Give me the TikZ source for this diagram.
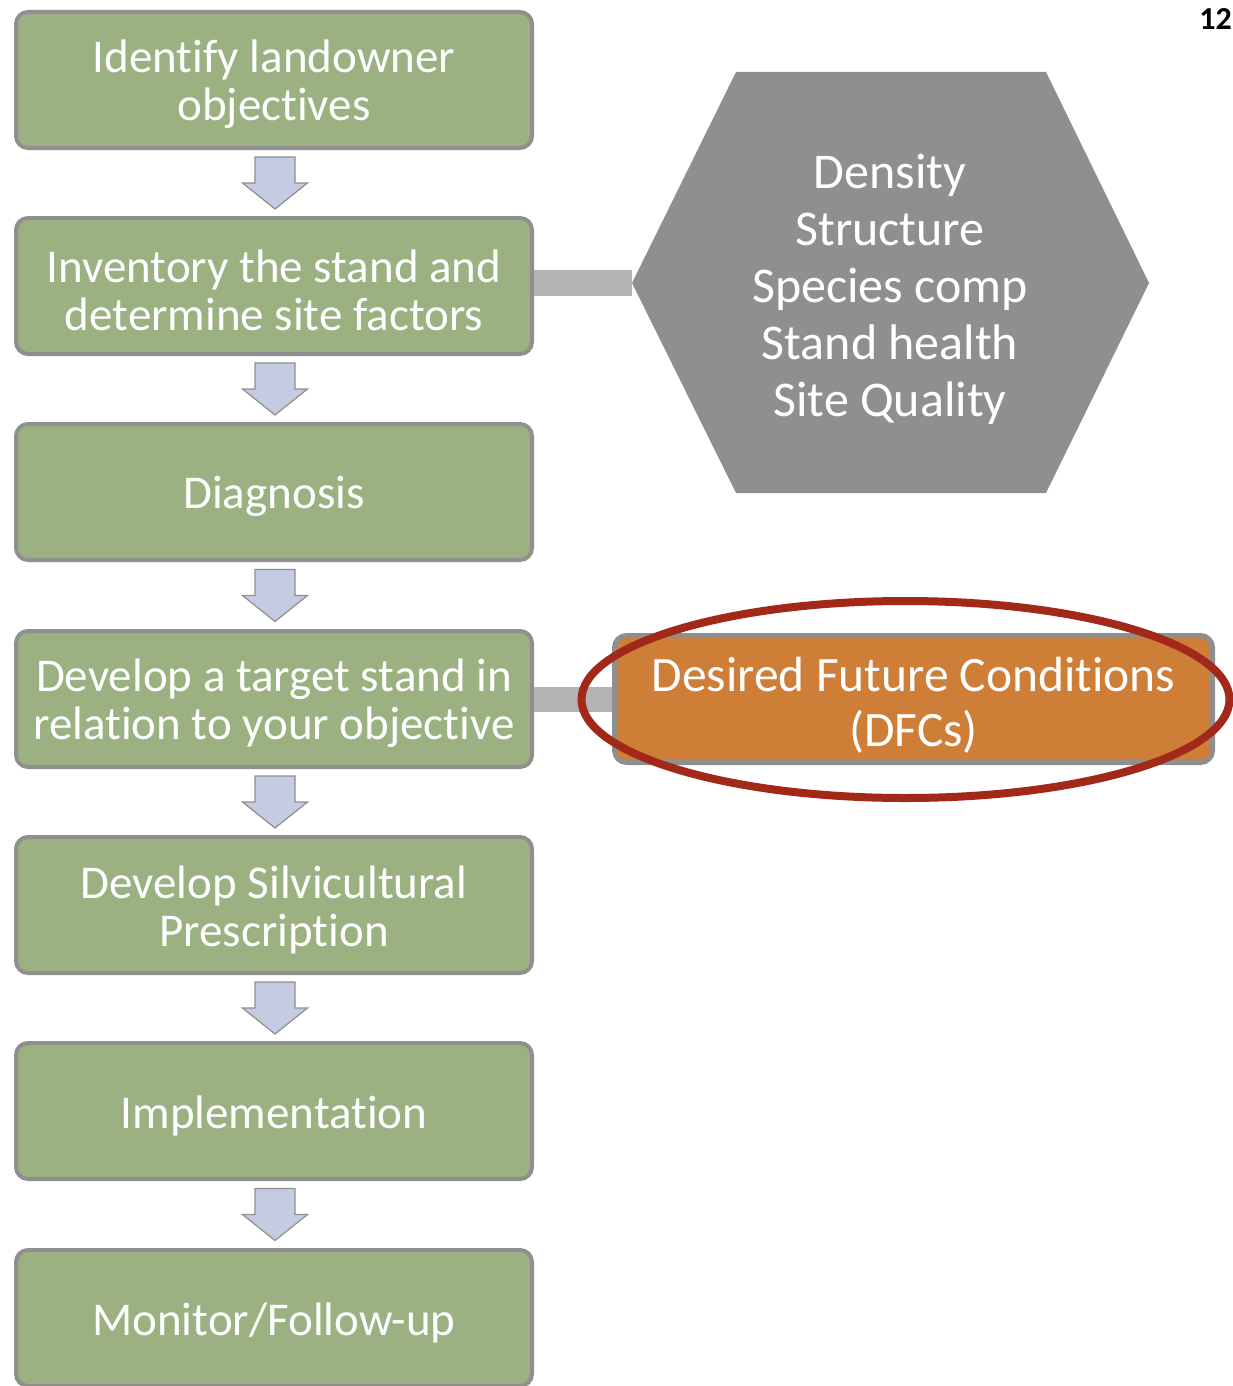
\documentclass[tikz,border=0pt]{standalone}
\usepackage{fontspec}
\setmainfont{Carlito}[Ligatures={NoCommon}]
\usetikzlibrary{calc}

\definecolor{stepgreen}{HTML}{9BB182}
\definecolor{edgegray}{HTML}{8F8F8F}
\definecolor{bargray}{HTML}{B3B3B3}
\definecolor{arrowfill}{HTML}{C5CBE0}
\definecolor{hexgray}{HTML}{8F8F8F}
\definecolor{dfcorange}{HTML}{CF7E37}
\definecolor{ringred}{HTML}{A2291A}

\tikzset{
  steptext/.style={align=center, text=white, font=\fontsize{47}{48}\selectfont,
    inner sep=0pt, yshift=-4.5pt},
  stepbox/.style={draw=edgegray, line width=4pt, fill=stepgreen, rounded corners=12pt,
    minimum width=516pt, minimum height=136pt, inner sep=0pt,
    label={[steptext]center:{#1}}},
  dfctext/.style={align=center, text=white, font=\fontsize{49.5}{55}\selectfont,
    inner sep=0pt, yshift=-6pt},
  dfcbox/.style={draw=edgegray, line width=5pt, fill=dfcorange, rounded corners=12pt,
    minimum width=598pt, minimum height=127pt, inner sep=0pt,
    label={[dfctext]center:{#1}}},
  hextext/.style={align=center, text=white, font=\fontsize{50}{57}\selectfont, inner sep=0pt},
  linkbar/.style={draw=bargray, line width=26pt},
  blockarrow/.pic={
    \draw[fill=arrowfill, draw=edgegray, line width=1.2pt, line join=miter]
      (-20,-26) -- (20,-26) -- (20,0) -- (32.5,0) -- (0,26) -- (-32.5,0) -- (-20,0) -- cycle;
  }
}

\begin{document}
\begin{tikzpicture}[x=1pt, y=-1pt]
  \useasboundingbox (0,0) rectangle (1232,1386);

  % process steps
  \node[stepbox={Identify landowner\\objectives}] (s1) at (274,80) {};
  \node[stepbox={Inventory the stand and\\determine site factors}] (s2) at (274,286) {};
  \node[stepbox={Diagnosis}] (s3) at (274,492) {};
  \node[stepbox={Develop a target stand in\\relation to your objective}] (s4) at (274,699) {};
  \node[stepbox={Develop Silvicultural\\Prescription}] (s5) at (274,905) {};
  \node[stepbox={Implementation}] (s6) at (274,1111) {};
  \node[stepbox={Monitor/Follow-up}] (s7) at (274,1318) {};

  % down arrows between steps
  \foreach \a/\b in {s1/s2, s2/s3, s3/s4, s4/s5, s5/s6, s6/s7} {
    \path ($(\a.south)+(1,0)$) -- ($(\b.north)+(1,0)$) pic[pos=0.5] {blockarrow};
  }

  % stand attributes hexagon
  \coordinate (hexL) at (632,283);
  \draw[linkbar] (s2.east |- hexL) -- (hexL);
  \fill[hexgray] (736,72) -- (1046,72) -- (1149,283) -- (1046,493) -- (736,493) -- (hexL) -- cycle;
  \node[hextext] (hex) at (890,289) {Density\\Structure\\Species comp\\Stand health\\Site Quality};

  % desired future conditions
  \coordinate (dfcC) at (913.5,699);
  \draw[linkbar, line width=25pt] (s4.east) -- (dfcC);
  \node[dfcbox={Desired Future Conditions\\(DFCs)}] (dfc) at (dfcC) {};
  \draw[ringred, line width=8pt] (905.5,699.5) ellipse [x radius=324, y radius=98.5];

  % page number
  \node[anchor=east, font=\fontsize{32}{36}\bfseries\selectfont, inner sep=0pt] (pg) at (1232,19) {12};
\end{tikzpicture}
\end{document}
